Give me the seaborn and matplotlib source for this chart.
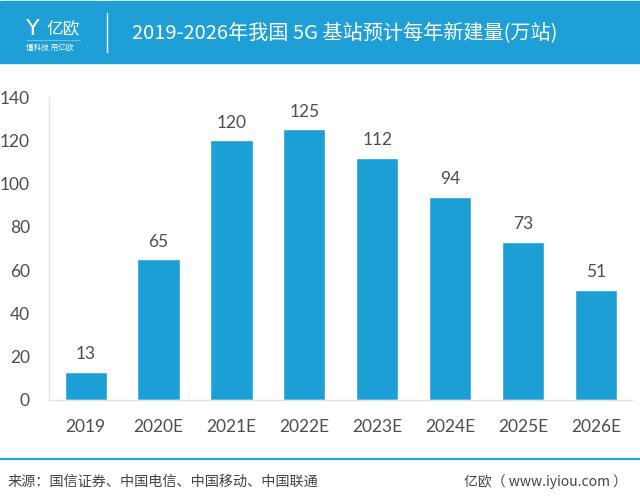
import matplotlib
matplotlib.use("Agg")
import matplotlib.pyplot as plt
import seaborn as sns
import pandas as pd
from matplotlib.patches import Rectangle
from matplotlib.lines import Line2D

# data
years = ["2019", "2020E", "2021E", "2022E", "2023E", "2024E", "2025E", "2026E"]
stations = [13, 65, 120, 125, 112, 94, 73, 51]

title = "2019-2026年我国 5G 基站预计每年新建量(万站)"
source = "来源：国信证券、中国电信、中国移动、中国联通"
site = "亿欧（ www.iyiou.com ）"

blue = "#1c9fd5"
grey = "#4d4d4d"
num_font = ['Lato', 'DejaVu Sans']

sns.set_theme(style="white")
plt.rcParams['font.family'] = ['Noto Sans CJK SC', 'DejaVu Sans']

df = pd.DataFrame({"year": years, "n": stations})

fig = plt.figure(figsize=(6.4, 5), dpi=100)
ax = fig.add_axes([0.077, 0.2, 0.911, 0.606])

sns.barplot(data=df, x="year", y="n", color=blue, saturation=1, width=0.58, ax=ax)

ax.set_ylim(0, 140)
ax.set_yticks(range(0, 141, 20))
ax.set_xlabel("")
ax.set_ylabel("")
for s in ["top", "right"]:
    ax.spines[s].set_visible(False)
for s in ["left", "bottom"]:
    ax.spines[s].set_color("#e3e3e3")
    ax.spines[s].set_linewidth(1)
ax.tick_params(axis="both", length=0, labelsize=12.5, labelcolor=grey)
ax.tick_params(axis="y", pad=14)
ax.tick_params(axis="x", pad=14)
for lab in ax.get_xticklabels() + ax.get_yticklabels():
    lab.set_family(num_font)

for c in ax.containers:
    ax.bar_label(c, padding=7, fontsize=12.5, color=grey, family=num_font)

# header band
fig.patches.append(Rectangle((0, 0.874), 1, 0.124, transform=fig.transFigure,
                             color="#1ea0d7", zorder=0))
fig.text(0.206, 0.933, title, color="white", fontsize=14.5, va="center", ha="left")
fig.add_artist(Line2D([0.167, 0.167], [0.896, 0.974], transform=fig.transFigure,
                      color="white", lw=1))
fig.text(0.073, 0.94, "亿欧", color="white", fontsize=12, va="center", ha="left")
fig.add_artist(Line2D([0.04, 0.125], [0.92, 0.92], transform=fig.transFigure,
                      color="#7cc8ea", lw=0.6))
fig.text(0.041, 0.904, "懂科技 用亿欧", color="white", fontsize=5.5, va="center", ha="left")
fig.text(0.04, 0.942, "Y", color="white", fontsize=16, va="center", ha="left",
         family=['DejaVu Sans'])

# footer
fig.add_artist(Line2D([0, 1], [0.082, 0.082], transform=fig.transFigure,
                      color="#2ea3d5", lw=1.6))
fig.text(0.012, 0.036, source, color="#444444", fontsize=10.2, va="center", ha="left")
fig.text(0.98, 0.036, site, color="#444444", fontsize=10, va="center", ha="right")

fig.savefig("out.png", dpi=100)
